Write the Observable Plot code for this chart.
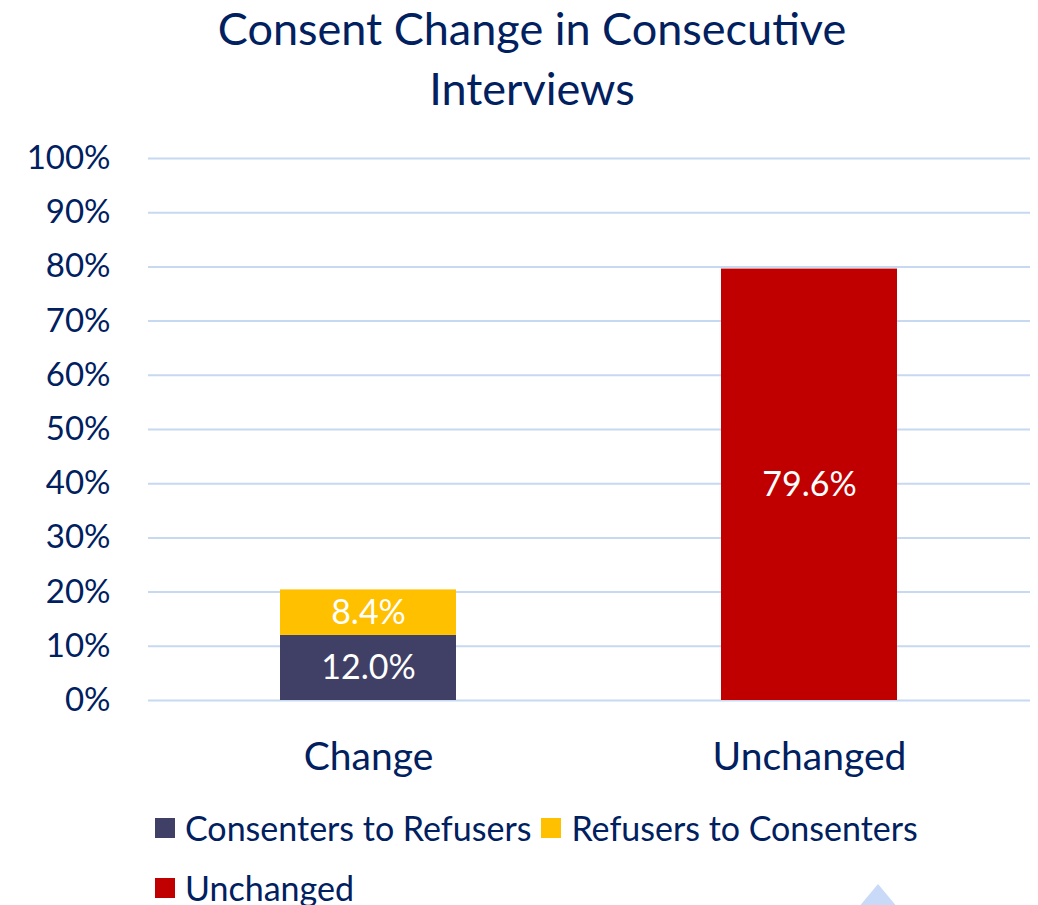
<!DOCTYPE html>
<html><head><meta charset="utf-8">
<script src="https://cdn.jsdelivr.net/npm/d3@7"></script>
<script src="https://cdn.jsdelivr.net/npm/@observablehq/plot@0.6"></script>
<style>
body{margin:0;background:#fff;width:1038px;height:905px;overflow:hidden;position:relative;font-family:Lato,"Open Sans",sans-serif;color:#002060}
#title{position:absolute;left:0;top:-2px;width:1064px;text-align:center;font-size:45px;line-height:60px}
#chart{position:absolute;left:0;top:110px}
#legend{position:absolute;left:155px;top:798px;font-size:34px;width:880px}
.item{display:inline-flex;align-items:center;margin-right:10px;height:60px;line-height:60px}
.sw{width:20px;height:20px;margin-right:10px;display:inline-block}
#tri{position:absolute;left:858px;top:884px;width:0;height:0;border-left:20px solid transparent;border-right:20px solid transparent;border-bottom:24px solid #c9daf8}
</style></head>
<body>
<div id="title">Consent Change in Consecutive<br>Interviews</div>
<div id="chart"></div>
<div id="legend"></div>
<div id="tri"></div>
<script>
const categories = ["Change", "Unchanged"];
const seriesNames = ["Consenters to Refusers", "Refusers to Consenters", "Unchanged"];
const seriesCategory = ["Change", "Change", "Unchanged"];
const seriesValues = [12.0, 8.4, 79.6];
const seriesColors = ["#404066", "#ffc000", "#c00000"];
const yTicks = [0, 10, 20, 30, 40, 50, 60, 70, 80, 90, 100];

const data = seriesNames.map((s, i) => ({series: s, category: seriesCategory[i], value: seriesValues[i]}));

const chart = Plot.plot({
  width: 1038,
  height: 670,
  marginTop: 48,
  marginBottom: 80,
  marginLeft: 148,
  marginRight: 8,
  style: {fontFamily: "Lato, 'Open Sans', sans-serif", color: "#002060", background: "transparent"},
  x: {domain: categories, paddingInner: 0.6, paddingOuter: 0.3, label: null},
  y: {domain: [0, 100], label: null},
  color: {domain: seriesNames, range: seriesColors},
  marks: [
    Plot.gridY(yTicks, {stroke: "#c6d9f1", strokeOpacity: 1, strokeWidth: 2}),
    Plot.barY(data, Plot.stackY({x: "category", y: "value", fill: "series", order: seriesNames})),
    Plot.text(data, Plot.stackY({x: "category", y: "value", z: "series", order: seriesNames, text: d => d.value.toFixed(1) + "%", fill: "white", fontSize: 34})),
    Plot.axisY(yTicks, {tickSize: 0, tickPadding: 38, tickFormat: d => d + "%", fontSize: 33, fill: "#002060"}),
    Plot.axisX({tickSize: 0, tickPadding: 42, fontSize: 39, fill: "#002060"})
  ]
});
document.getElementById("chart").appendChild(chart);

const legend = document.getElementById("legend");
seriesNames.forEach((s, i) => {
  const it = document.createElement("span");
  it.className = "item";
  const sw = document.createElement("span");
  sw.className = "sw";
  sw.style.background = seriesColors[i];
  it.appendChild(sw);
  it.appendChild(document.createTextNode(s));
  legend.appendChild(it);
});
</script>
</body></html>
